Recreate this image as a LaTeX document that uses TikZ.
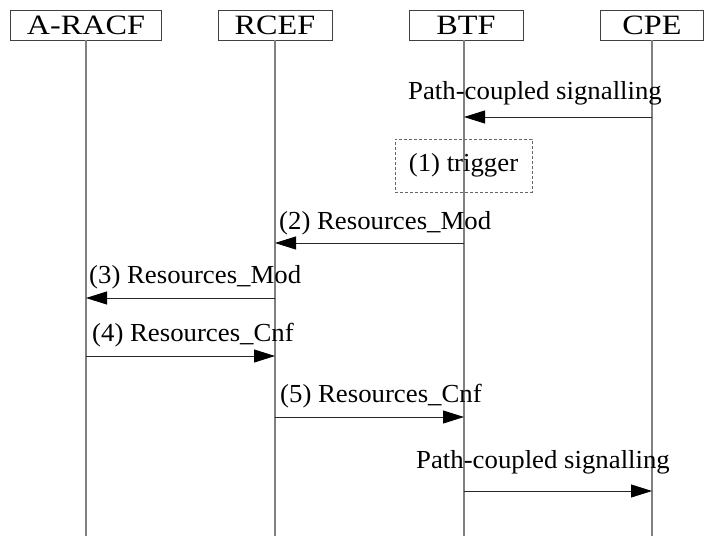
\documentclass[tikz,border=0pt]{standalone}
\usepackage{fontspec}
\setmainfont{Liberation Serif}
\newfontfamily\entityfont[FakeStretch=1.15]{Liberation Serif}
\newfontfamily\msgfont[FakeStretch=1.03]{Liberation Serif}
\usetikzlibrary{arrows.meta, positioning}

\begin{document}
\begin{tikzpicture}[
				x=1pt, y=1pt,
				>={Triangle[length=21pt,width=13pt,color=black]},
				entity/.style={draw=black!75, line width=0.8pt, minimum height=30pt, inner sep=0pt, font=\entityfont\fontsize{28}{30}\selectfont},
				lifeline/.style={draw=black!50, line width=1.3pt},
				msg/.style={->, line width=0.8pt, draw=black!85},
				msglabel/.style={anchor=base west, inner sep=0pt, font=\msgfont\fontsize{26}{28}\selectfont},
				triggerbox/.style={draw=black!60, dash pattern=on 3pt off 2pt, line width=0.8pt, minimum width=137pt, minimum height=53pt, font=\msgfont\fontsize{26}{28}\selectfont}]

			\useasboundingbox (0,0) rectangle (704,-536);

			\node[entity, minimum width=151pt] (a_racf) at (86,-25) {A-RACF};
			\node[entity, minimum width=114pt] (rcef) at (275,-25) {RCEF};
			\node[entity, minimum width=114pt] (btf) at (466,-25) {BTF};
			\node[entity, minimum width=103pt] (cpe) at (652,-25) {CPE};

			\coordinate (bottom) at (0,-536);
			\draw[lifeline] (86,-40) -- (86,-536);
			\draw[lifeline] (rcef.south) -- (rcef.south |- bottom);
			\draw[lifeline] (464,-40) -- (464,-536);
			\draw[lifeline] (cpe.south) -- (cpe.south |- bottom);

			\foreach \n/\y in {1/117, 2/243, 3/298, 4/356, 5/417, 6/491} {
				\coordinate (a\n) at (86,-\y);
				\coordinate (r\n) at (275,-\y);
				\coordinate (b\n) at (464,-\y);
				\coordinate (c\n) at (652,-\y);
			}

			\draw[msg] (c1) -- (b1);
			\node[msglabel] (sig_up) at (408,-99) {Path-coupled signalling};

			\node[triggerbox] (trigger) at (463.5,-165.5) {(1) trigger};

			\draw[msg] (b2) -- (r2);
			\node[msglabel] (mod_btf) at (279,-229) {(2) Resources\_Mod};

			\draw[msg] (r3) -- (a3);
			\node[msglabel] (mod_rcef) at (89,-283) {(3) Resources\_Mod};

			\draw[msg] (a4) -- (r4);
			\node[msglabel] (cnf_racf) at (92,-341) {(4) Resources\_Cnf};

			\draw[msg] (r5) -- (b5);
			\node[msglabel] (cnf_rcef) at (280,-402) {(5) Resources\_Cnf};

			\draw[msg] (b6) -- (c6);
			\node[msglabel] (sig_down) at (416,-468) {Path-coupled signalling};

		\end{tikzpicture}
\end{document}
